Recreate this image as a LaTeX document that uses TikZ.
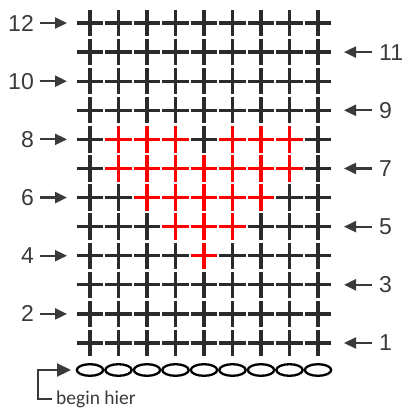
\documentclass[tikz,border=0pt]{standalone}
\usepackage{fontspec}
\setmainfont{Liberation Sans}
\newfontfamily\calibfont{Carlito}
\usetikzlibrary{arrows.meta}
\definecolor{ink}{HTML}{2B2B2B}
\definecolor{lab}{HTML}{3A3A3A}
\definecolor{hot}{HTML}{FF0000}
\tikzset{
  stitch/.pic={\draw[line width=3.3pt] (-13.4,0)--(13.4,0) (0,-13.2)--(0,13.2);},
  rownum/.style={text=lab,font=\fontsize{23}{23}\selectfont,inner sep=0pt},
  rowarrow/.style={draw=lab,line width=2.2pt,-{Triangle[length=12pt,width=11pt]}},
  chain/.style={draw=black,line width=2.3pt},
}
\begin{document}
\begin{tikzpicture}[x=1pt,y=-1pt]
\useasboundingbox (0,0) rectangle (404,409);
% grid of stitches
\foreach \r in {1,...,12}{
  \foreach \c in {0,...,8}{
    \pgfmathsetmacro\xx{90+28.5*\c}
    \pgfmathsetmacro\yy{343-29.09*(\r-1)}
    \pic[ink] at (\xx,\yy) {stitch};
  }
}
% red stitches
\foreach \r/\c in {8/1,8/2,8/3,8/5,8/6,8/7,
                   7/1,7/2,7/3,7/4,7/5,7/6,7/7,
                   6/2,6/3,6/4,6/5,6/6,
                   5/3,5/4,5/5,
                   4/4}{
  \pgfmathsetmacro\xx{90+28.5*\c}
  \pgfmathsetmacro\yy{343-29.09*(\r-1)}
  \pic[hot] at (\xx,\yy) {stitch};
}
% chain row
\foreach \c in {0,...,8}{
  \pgfmathsetmacro\xx{90+28.5*\c}
  \draw[chain] (\xx,370) ellipse [x radius=13.2, y radius=5.8];
}
% left labels (even rows)
\foreach \r in {2,4,...,12}{
  \pgfmathsetmacro\yy{343-29.09*(\r-1)}
  \node[rownum,anchor=east] (L\r) at (34,\yy) {\r};
  \coordinate (LA\r) at (40,\yy);
  \coordinate (LB\r) at (67,\yy);
  \draw[rowarrow] (LA\r) -- (LB\r);
}
% right labels (odd rows)
\foreach \r in {1,3,...,11}{
  \pgfmathsetmacro\yy{343-29.09*(\r-1)}
  \node[rownum,anchor=west] (R\r) at (379,\yy) {\r};
  \coordinate (RA\r) at (372,\yy);
  \coordinate (RB\r) at (344,\yy);
  \draw[rowarrow] (RA\r) -- (RB\r);
}
% start marker
\coordinate (s0) at (52,399);
\coordinate (s1) at (38,399);
\coordinate (s2) at (38,370);
\coordinate (s3) at (71,370);
\draw[draw=lab,line width=2.2pt,-{Triangle[length=14pt,width=13pt]}] (s0) -- (s1) -- (s2) -- (s3);
\node[text=lab,font=\calibfont\fontsize{19.5}{19.5}\selectfont,anchor=base west,inner sep=0pt] (begin) at (56,404) {begin hier};
\end{tikzpicture}
\end{document}
